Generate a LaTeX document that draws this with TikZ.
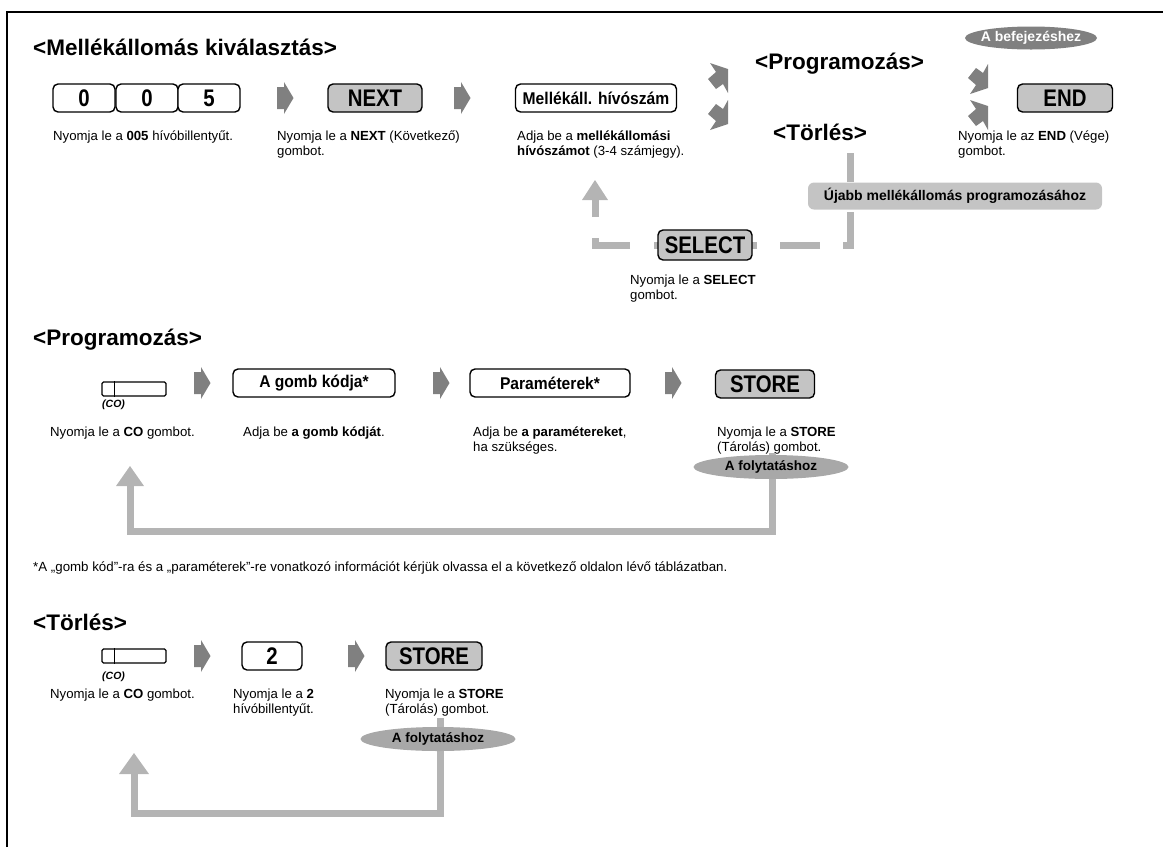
\documentclass[tikz,border=0pt]{standalone}
\usepackage{fontspec}
\setmainfont{Liberation Sans}
\newfontfamily\cbold[FakeStretch=0.85]{Liberation Sans Bold}
\newfontfamily\mbold[FakeStretch=0.92]{Liberation Sans Bold}
\usetikzlibrary{shapes.geometric}
\definecolor{agray}{HTML}{808080}
\definecolor{lgray}{HTML}{B4B4B4}
\definecolor{bgray}{HTML}{C4C4C4}
\definecolor{ogray}{HTML}{A8A8A8}
\begin{document}
\begin{tikzpicture}[x=1pt,y=-1pt,
  key/.style={draw, line width=1.4pt, rounded corners=5pt, fill=white, minimum height=28pt, inner sep=0pt, font=\fontsize{24}{24}\cbold},
  gkey/.style={key, fill=bgray},
  wkey/.style={key, minimum width=161pt, font=\fontsize{17}{17}\mbold},
  captxt/.style={anchor=north west, align=left, inner sep=0pt, font=\fontsize{13.2}{14.5}\selectfont},
  ttl/.style={anchor=west, inner sep=0pt, font=\fontsize{22.5}{22.5}\selectfont\bfseries},
  cokey/.style={draw, line width=1.1pt, rounded corners=1.5pt, minimum width=64pt, minimum height=14pt, inner sep=0pt},
  colab/.style={anchor=west, inner sep=0pt, font=\fontsize{10.5}{10.5}\selectfont\bfseries\itshape},
  ovalshape/.style={ellipse, fill=ogray, inner sep=0pt, minimum width=155pt, minimum height=24pt},
  ovaltxt/.style={inner sep=0pt, font=\fontsize{13.5}{14}\selectfont\bfseries},
  loopline/.style={draw=lgray, line width=7pt, line cap=butt},
  looptip/.style={fill=lgray},
  barrow/.pic={\fill[agray] (-8,-11) -- (-1,-11) -- (-1,-16) -- (8.5,0) -- (-1,16) -- (-1,11) -- (-8,11) -- cycle;},
  uparrow/.pic={\fill[agray] (10,-9) -- (-8,-15) -- (-2,-6) -- (-10,1) -- (-2,11) -- (5,6) -- (10,15) -- cycle;},
  downarrow/.pic={\fill[agray] (10,9) -- (-8,15) -- (-2,6) -- (-10,-1) -- (-2,-11) -- (5,-6) -- (10,-15) -- cycle;}
]
\useasboundingbox (0,0) rectangle (1163,847);
% frame
\draw[line width=2pt] (7,847) -- (7,12) -- (1163,12);

% ---------- section 1 ----------
\node[ttl] (t1) at (33,47) {<Mellékállomás kiválasztás>};
\node[key, minimum width=62pt] (k0a) at (84,98) {0};
\node[key, minimum width=62pt] (k0b) at (147,98) {0};
\node[key, minimum width=62pt] (k5) at (209,98) {5};
\pic at (285,98) {barrow};
\node[gkey, minimum width=94pt] (next) at (375,98) {NEXT};
\pic at (462,98) {barrow};
\node[wkey] (ext) at (596,98) {Mellékáll. hívószám};
\pic at (718,78) {uparrow};
\pic at (718,115) {downarrow};
\node[ttl] (tprog1) at (755,64) {<Programozás>};
\node[ttl] (ttorl1) at (773,132) {<Törlés>};
\node[ellipse, fill=agray, inner sep=0pt, minimum width=132pt, minimum height=23pt] (bef) at (1031,38) {};
\node[inner sep=0pt, text=white, font=\fontsize{14}{14}\selectfont\bfseries] (beft) at (bef) {A befejezéshez};
\pic at (978,79) {downarrow};
\pic at (978,115) {uparrow};
\node[gkey, minimum width=95pt] (endk) at (1065,98) {END};

\node[captxt] (c1) at (53,131) {Nyomja le a \textbf{005} hívóbillentyűt.};
\node[captxt] (c2) at (277,131) {Nyomja le a \textbf{NEXT} (Következő)\\gombot.};
\node[captxt] (c3) at (517,131) {Adja be a \textbf{mellékállomási}\\\textbf{hívószámot} (3-4 számjegy).};
\node[captxt] (c4) at (958,131) {Nyomja le az \textbf{END} (Vége)\\gombot.};

% loop to another extension
\coordinate (tv) at (850,153);
\node[fill=bgray, rounded corners=6pt, minimum width=294pt, minimum height=27pt, inner sep=0pt, font=\fontsize{14}{14}\selectfont\bfseries] (ujabb) at (955,196) {Újabb mellékállomás programozásához};
\draw[loopline] (tv) -- (tv |- ujabb.north);
\coordinate (ls) at (850,212);
\coordinate (lc1) at (850,245);
\coordinate (lc2) at (595,245);
\coordinate (lt) at (595,200);
\draw[loopline, dash pattern=on 40pt off 23pt on 40pt off 23pt on 103pt off 24pt on 42pt off 21pt on 40pt] (ls) -- (lc1) -- (lc2) -- (lt);
\fill[looptip] (lt) ++(-13,0) -- ++(13,-20) -- ++(13,20) -- cycle;
\node[gkey, minimum width=94pt, minimum height=30pt] (select) at (705,245) {SELECT};
\node[captxt] (c5) at (630,275) {Nyomja le a \textbf{SELECT}\\gombot.};

% ---------- section 2 ----------
\node[ttl] (t2) at (33,340) {<Programozás>};
\node[cokey] (co1) at (134,389) {};
\draw[line width=1.1pt] ([xshift=13pt]co1.north west) -- ([xshift=13pt]co1.south west);
\node[colab] (co1l) at (102,405) {(CO)};
\pic at (202,383) {barrow};
\node[wkey, minimum width=162pt] (gk) at (314,383) {A gomb kódja*};
\pic at (441,383) {barrow};
\node[wkey, minimum width=160pt] (par) at (550,383) {Paraméterek*};
\pic at (673,383) {barrow};
\node[gkey, minimum width=99pt] (store1) at (765,384) {STORE};

\node[captxt] (c6) at (50,427) {Nyomja le a \textbf{CO} gombot.};
\node[captxt] (c7) at (243,427) {Adja be \textbf{a gomb kódját}.};
\node[captxt] (c8) at (473,427) {Adja be \textbf{a paramétereket},\\ha szükséges.};
\node[captxt] (c9) at (717,427) {Nyomja le a \textbf{STORE}\\(Tárolás) gombot.};

\coordinate (p1) at (772,453);
\coordinate (p2) at (772,531);
\coordinate (p3) at (130,531);
\coordinate (p4) at (130,486);
\draw[loopline] (p1) -- (p2) -- (p3) -- (p4);
\fill[looptip] (p4) ++(-14,0) -- ++(14,-20) -- ++(14,20) -- cycle;
\node[ovalshape] (fol1) at (771,467) {};
\node[ovaltxt] (fol1t) at (fol1) {A folytatáshoz};

\node[anchor=west, inner sep=0pt, font=\fontsize{13.3}{14}\selectfont] (note) at (33,568) {*A „gomb kód”-ra és a „paraméterek”-re vonatkozó információt kérjük olvassa el a következő oldalon lévő táblázatban.};

% ---------- section 3 ----------
\node[ttl] (t3) at (33,622) {<Törlés>};
\node[cokey] (co2) at (134,656) {};
\draw[line width=1.1pt] ([xshift=13pt]co2.north west) -- ([xshift=13pt]co2.south west);
\node[colab] (co2l) at (102,677) {(CO)};
\pic at (202,656) {barrow};
\node[key, minimum width=60pt] (k2) at (272,656) {2};
\pic at (356,656) {barrow};
\node[gkey, minimum width=96pt] (store2) at (434,656) {STORE};

\node[captxt] (c10) at (50,689) {Nyomja le a \textbf{CO} gombot.};
\node[captxt] (c11) at (233,689) {Nyomja le a \textbf{2}\\hívóbillentyűt.};
\node[captxt] (c12) at (385,689) {Nyomja le a \textbf{STORE}\\(Tárolás) gombot.};

\coordinate (q1) at (440,718);
\coordinate (q2) at (440,813);
\coordinate (q3) at (134,813);
\coordinate (q4) at (134,774);
\draw[loopline] (q1) -- (q2) -- (q3) -- (q4);
\fill[looptip] (q4) ++(-15,0) -- ++(15,-21) -- ++(15,21) -- cycle;
\node[ovalshape] (fol2) at (438,739) {};
\node[ovaltxt] (fol2t) at (fol2) {A folytatáshoz};
\end{tikzpicture}
\end{document}
